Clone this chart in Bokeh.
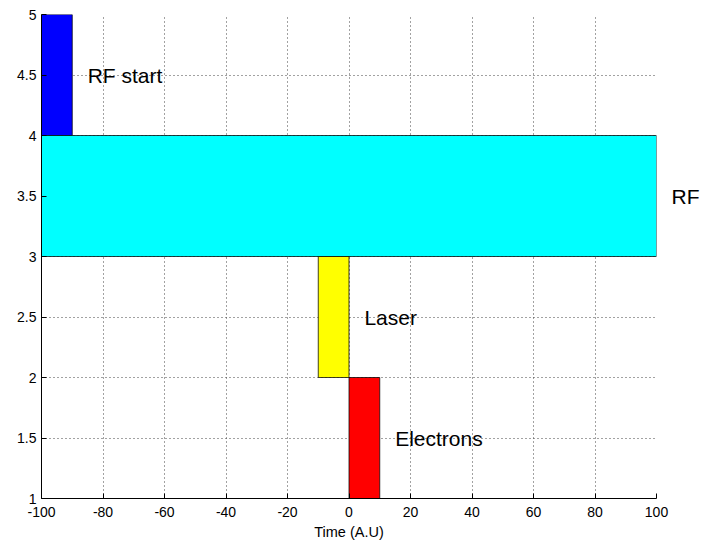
from bokeh.plotting import figure
from bokeh.models import Range1d, FixedTicker, Label, ColumnDataSource, LinearAxis
from bokeh.embed import file_html
from bokeh.resources import INLINE

# Timing sequence: each event occupies one unit band on the vertical axis
names = ["RF start", "RF", "Laser", "Electrons"]
starts = [-100, -100, -10, 0]
ends = [-90, 100, 0, 10]
levels = [4, 3, 2, 1]
colors = ["#0000ff", "#00ffff", "#ffff00", "#ff0000"]

x_ticks = [-100, -80, -60, -40, -20, 0, 20, 40, 60, 80, 100]
y_ticks = [1, 1.5, 2, 2.5, 3, 3.5, 4, 4.5, 5]

X_MIN, X_MAX = -100, 100
FONT = "Liberation Sans"
LABEL_SIZE = "21px"

src = ColumnDataSource(dict(
    left=starts,
    right=ends,
    bottom=levels,
    top=[v + 1 for v in levels],
    color=colors,
))

p = figure(
    width=702, height=542,
    x_range=Range1d(X_MIN, X_MAX), y_range=Range1d(1, 5),
    output_backend="svg", toolbar_location=None,
    min_border_left=41, min_border_right=45,
    min_border_top=14, min_border_bottom=44,
)
p.outline_line_color = None
p.background_fill_color = "white"
p.border_fill_color = "white"

p.quad(left="left", right="right", bottom="bottom", top="top",
       fill_color="color", line_color="#000000", line_alpha=0.75,
       line_width=1, source=src)

# Main axes: ticks point inward, plain numeric labels
xax, yax = p.below[0], p.left[0]
xax.ticker = FixedTicker(ticks=x_ticks)
yax.ticker = FixedTicker(ticks=y_ticks)
xax.major_label_overrides = {v: f"{v:g}" for v in x_ticks}
yax.major_label_overrides = {v: f"{v:g}" for v in y_ticks}

for ax in (xax, yax):
    ax.major_tick_in = 5
    ax.major_tick_out = 0
    ax.minor_tick_in = 0
    ax.minor_tick_out = 0
    ax.axis_line_color = "black"
    ax.major_tick_line_color = "black"
    ax.major_label_text_font = FONT
    ax.major_label_text_font_size = "14px"
    ax.major_label_text_color = "black"

xax.major_label_standoff = 8
yax.major_label_standoff = 5
xax.axis_label = "Time (A.U)"
xax.axis_label_text_font = FONT
xax.axis_label_text_font_size = "14.5px"
xax.axis_label_text_font_style = "normal"
xax.axis_label_text_color = "black"
xax.axis_label_standoff = 4

p.xgrid.ticker = xax.ticker
p.ygrid.ticker = yax.ticker
p.grid.grid_line_color = "#444444"
p.grid.grid_line_dash = "1 3"
p.grid.grid_line_width = 1

# Event labels sit just right of each band's end, centred in the band.
# Labels that would fall past the plot's right edge go on a bare right axis.
outside = {}
for name, end, lvl in zip(names, ends, levels):
    lx, ly = end + 5, lvl + 0.5
    if lx < X_MAX:
        p.add_layout(Label(
            x=lx, y=ly, text=name,
            text_align="left", text_baseline="middle",
            text_font=FONT, text_font_size=LABEL_SIZE, text_color="black",
        ))
    else:
        outside[ly] = name

if outside:
    side = LinearAxis(
        ticker=FixedTicker(ticks=list(outside.keys())),
        major_label_overrides=outside,
        axis_line_color=None,
        major_tick_line_color=None,
        minor_tick_line_color=None,
        major_tick_in=0, major_tick_out=0,
        minor_tick_in=0, minor_tick_out=0,
        major_label_standoff=15,
        major_label_text_font=FONT,
        major_label_text_font_size=LABEL_SIZE,
        major_label_text_color="black",
    )
    p.add_layout(side, "right")

open("out.html", "w").write(file_html(p, INLINE))
